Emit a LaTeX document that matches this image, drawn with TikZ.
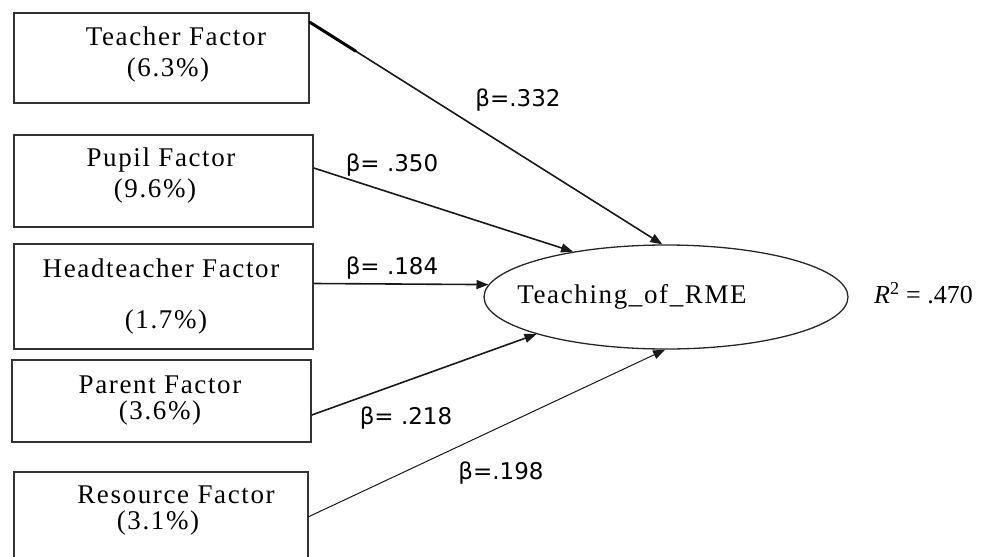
\documentclass[tikz,border=0pt]{standalone}
\usepackage{fontspec}
\setmainfont{Liberation Serif}
\newfontfamily\boxfont[LetterSpace=6]{Liberation Serif}
\newfontfamily\betafont{DejaVu Sans}
\usetikzlibrary{arrows.meta,calc,shapes.geometric}
\begin{document}
\begin{tikzpicture}[x=1pt,y=-1pt,
  box/.style={draw=black!80, line width=1.6pt, inner sep=0pt},
  lbl/.style={inner sep=0pt, font=\boxfont\fontsize{27}{30}\selectfont},
  beta/.style={inner sep=0pt, font=\betafont\fontsize{23}{26}\selectfont},
  conn/.style={draw=black!90, line width=1.6pt, -{Triangle[length=12pt,width=9pt]}},
  thinconn/.style={draw=black!90, line width=1pt, -{Triangle[length=12pt,width=9pt]}}]
\useasboundingbox (0,0) rectangle (997,557);
\clip (0,0) rectangle (997,557);
% boxes
\node[box, minimum width=295pt, minimum height=90pt] (tea) at (161.5,58) {};
\node[box, minimum width=299pt, minimum height=92pt] (pup) at (163.5,181) {};
\node[box, minimum width=299pt, minimum height=105pt] (head) at (163.5,296.5) {};
\node[box, minimum width=299pt, minimum height=82pt] (par) at (161.5,401) {};
\node[box, minimum width=294pt, minimum height=110pt] (res) at (161,527) {};
% box texts
\node[lbl] (teat1) at (176,36) {Teacher Factor};
\node[lbl] (teat2) at (168,70) {(6.3\%)};
\node[lbl] (pupt1) at (161,160) {Pupil Factor};
\node[lbl] (pupt2) at (155,191) {(9.6\%)};
\node[lbl] (headt1) at (161,268) {Headteacher Factor};
\node[lbl] (headt2) at (166,322) {(1.7\%)};
\node[lbl] (part1) at (160,385) {Parent Factor};
\node[lbl] (part2) at (160,413) {(3.6\%)};
\node[lbl] (rest1) at (176,495) {Resource Factor};
\node[lbl] (rest2) at (158,523) {(3.1\%)};
% outcome
\node[ellipse, draw=black!85, line width=1.3pt, minimum width=364pt, minimum height=104pt, inner sep=0pt] (rme) at (666,297) {};
\node[lbl] (rmet) at (632,297) {Teaching\_of\_RME};
\node[inner sep=0pt, font=\fontsize{26}{30}\selectfont, anchor=west] (r2) at (874,293) {\textit{R}\textsuperscript{2} = .470};
% connectors
\coordinate (s1) at ($(tea.north east)+(0,10)$);
\draw[conn] (s1) -- (rme.94);
\draw[line width=3pt, line cap=round] (s1) -- ($(s1)!0.13!(rme.94)$);
\draw[conn] ($(pup.east)+(0,-13)$) -- (rme.154);
\draw[conn] ($(head.east)+(0,-13)$) -- (rme.176);
\draw[conn] ($(par.east)+(0,14)$) -- (rme.196);
\draw[thinconn] ($(res.west)!0.5!(res.east)+(147,-10)$) -- (rme.269);
% beta labels
\node[beta] (b1) at (518,100) {β=.332};
\node[beta] (b2) at (392,165) {β= .350};
\node[beta] (b3) at (392,268) {β= .184};
\node[beta] (b4) at (406,418) {β= .218};
\node[beta] (b5) at (501,473) {β=.198};
\end{tikzpicture}
\end{document}
